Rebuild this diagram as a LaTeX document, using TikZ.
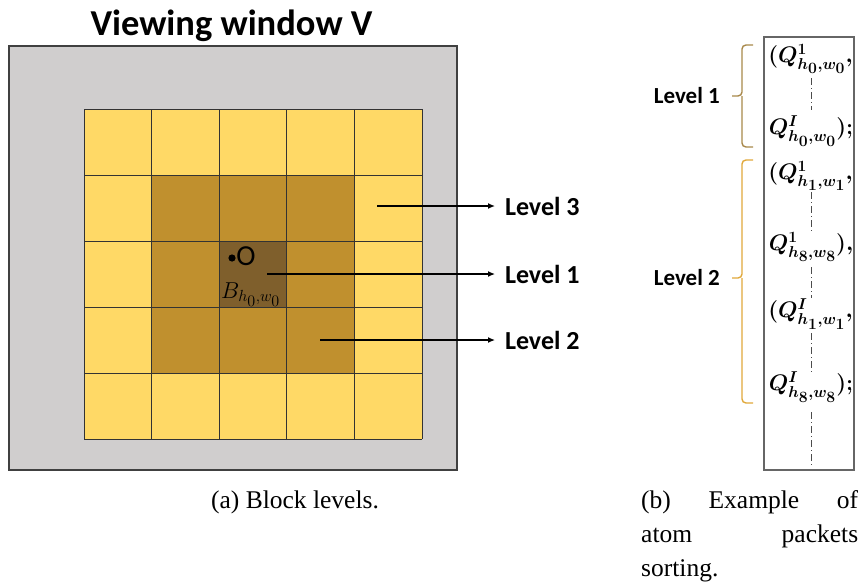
\RequirePackage{fix-cm}
\documentclass[tikz,border=0pt]{standalone}
\usepackage{fontspec}
\usepackage{amsmath}
\usepackage{bm}
\setmainfont{Liberation Serif}
\newfontfamily\carlito{Carlito}
\usetikzlibrary{arrows.meta}
\definecolor{viewgray}{HTML}{D0CECE}
\definecolor{viewborder}{HTML}{404040}
\definecolor{lvthree}{HTML}{FFD966}
\definecolor{lvtwo}{HTML}{C0902E}
\definecolor{lvone}{HTML}{7F5F2C}
\definecolor{braceone}{HTML}{A8884A}
\definecolor{bracetwo}{HTML}{E0A83A}
\newcommand{\sz}[1]{{\scriptstyle #1}}
\tikzset{
  gridline/.style={draw=black!80, line width=0.9pt},
  arr/.style={line width=1.3pt, -{Latex[length=7pt,width=6pt]}},
  lvlabel/.style={font=\carlito\bfseries\fontsize{26}{28}\selectfont, inner sep=0pt, outer sep=10pt},
  rlabel/.style={font=\carlito\bfseries\fontsize{23}{25}\selectfont, inner sep=0pt},
  qtext/.style={font=\boldmath\fontsize{22.5}{24}\selectfont, inner sep=0pt},
  dashline/.style={draw=black!70, line width=0.9pt, dash pattern=on 7pt off 3pt on 1pt off 3pt},
  bracestyle/.style={line width=1.4pt, rounded corners=4pt},
  caption/.style={font=\fontsize{25.5}{28}\selectfont, inner sep=0pt, anchor=base},
}
\begin{document}
\begin{tikzpicture}[x=1pt,y=-1pt]
\useasboundingbox (0,0) rectangle (862,581);
% title
\node[font=\carlito\bfseries\fontsize{36.5}{40}\selectfont, anchor=base, inner sep=0pt] (title) at (231.5,35) {Viewing window V};
% viewing window
\draw[fill=viewgray, draw=viewborder, line width=1.4pt] (9,46) rectangle (457,470);
% cells
\foreach \i in {0,...,4}{
  \foreach \j in {0,...,4}{
    \pgfmathtruncatemacro\r{max(abs(\i-2),abs(\j-2))}
    \ifcase\r \def\cc{lvone}\or \def\cc{lvtwo}\or \def\cc{lvthree}\fi
    \fill[\cc] ({84+67.6*\i},{109+66*\j}) rectangle ({84+67.6*(\i+1)},{109+66*(\j+1)});
  }
}
\foreach \k in {0,...,5}{
  \draw[gridline] ({84+67.6*\k},109) -- ({84+67.6*\k},439);
  \draw[gridline] (84,{109+66*\k}) -- (422,{109+66*\k});
}
% centre marks
\fill (232,258) circle (3.6);
\node[font=\carlito\fontsize{29}{30}\selectfont, inner sep=0pt] (o) at (246,256) {O};
\node[font=\fontsize{23}{25}\selectfont, anchor=base west, inner sep=0pt] (bsym) at (221,298) {$B_{h_{\sz{0}},w_{\sz{0}}}$};
% level labels and arrows
\coordinate (c3) at (377,206);
\coordinate (c1) at (267,274);
\coordinate (c2) at (320,340);
\node[lvlabel, anchor=west] (lv3) at (495,206) {Level 3};
\node[lvlabel, anchor=west] (lv1) at (495,274) {Level 1};
\node[lvlabel, anchor=west] (lv2) at (495,340) {Level 2};
\draw[arr] (c3) -- (lv3);
\draw[arr] (c1) -- (lv1);
\draw[arr] (c2) -- (lv2);
% right panel
\draw[draw=black!60, line width=1.4pt] (764,37) rectangle (854,470);
\node[qtext] (q1) at (810.5,59) {$\bm{(Q^{\sz{1}}_{h_{\sz{0}},w_{\sz{0}}},}$};
\node[qtext] (q2) at (811,131) {$\bm{Q^{\sz{I}}_{h_{\sz{0}},w_{\sz{0}}});}$};
\node[qtext] (q3) at (810.5,176) {$\bm{(Q^{\sz{1}}_{h_{\sz{1}},w_{\sz{1}}},}$};
\node[qtext] (q4) at (811,247) {$\bm{Q^{\sz{1}}_{h_{\sz{8}},w_{\sz{8}}}),}$};
\node[qtext] (q5) at (810.5,314) {$\bm{(Q^{\sz{I}}_{h_{\sz{1}},w_{\sz{1}}},}$};
\node[qtext] (q6) at (811,387) {$\bm{Q^{\sz{I}}_{h_{\sz{8}},w_{\sz{8}}});}$};
\coordinate (qend) at (811,465);
\draw[dashline] (811,78) -- (811,110);
\draw[dashline] (811,192) -- (811,232);
\draw[dashline] (811,267) -- (811,298);
\draw[dashline] (811,333) -- (811,373);
\draw[dashline] (811,412) -- (qend);
% braces
\coordinate (t1) at (732,96);
\coordinate (t2) at (732,278);
\draw[bracestyle, draw=braceone] (753,45) -- (742,45) -- (742,96) -- (t1);
\draw[bracestyle, draw=braceone] (753,147) -- (742,147) -- (742,96);
\draw[bracestyle, draw=bracetwo] (753,160) -- (742,160) -- (742,278) -- (t2);
\draw[bracestyle, draw=bracetwo] (753,403) -- (742,403) -- (742,278);
\node[rlabel, anchor=east] (rl1) at (720,96) {Level 1};
\node[rlabel, anchor=east] (rl2) at (720,278) {Level 2};
% captions
\node[caption] (capa) at (295,508) {(a) Block levels.};
\node[caption, anchor=base west] (capb1) at (641,508) {\hbox to 217pt{(b)\hfill Example\hfill of}};
\node[caption, anchor=base west] (capb2) at (641,542) {\hbox to 217pt{atom\hfill packets}};
\node[caption, anchor=base west] (capb3) at (641,576) {sorting.};
\end{tikzpicture}
\end{document}
